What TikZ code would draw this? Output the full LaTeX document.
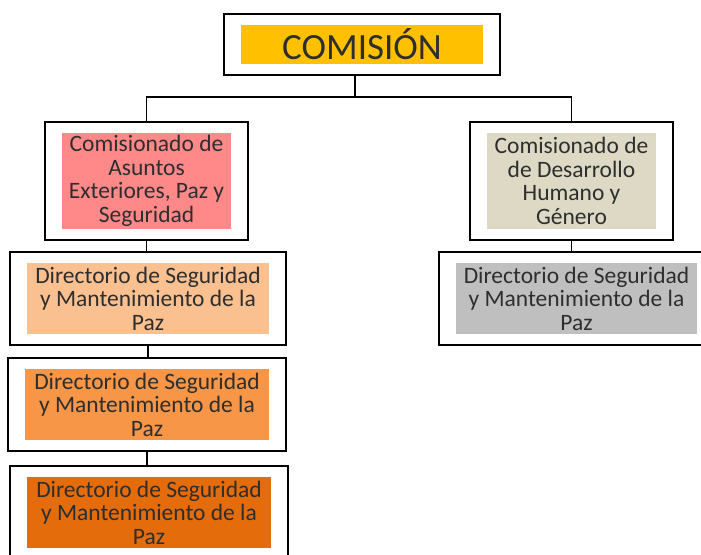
\documentclass[tikz,border=0pt]{standalone}
\usepackage{fontspec}
\setmainfont{Carlito}
\usepackage{tikz}
\usetikzlibrary{fit}
\definecolor{txt}{HTML}{2E2E2E}
\definecolor{comYellow}{HTML}{FFC000}
\definecolor{comPink}{HTML}{FF8989}
\definecolor{comTan}{HTML}{DDD9C4}
\definecolor{dirLight}{HTML}{FAC090}
\definecolor{dirMid}{HTML}{F79646}
\definecolor{dirDark}{HTML}{E46C0A}
\definecolor{dirGray}{HTML}{BFBFBF}
\tikzset{
	inbox/.style={minimum width=#1, inner sep=0pt, align=center, text=txt, font=\fontsize{23.5}{23.5}\selectfont},
	frame/.style={draw=black, line width=1.7pt, inner xsep=16.5pt, inner ysep=10.5pt},
	link/.style={line width=1.3pt}
}
\begin{document}
\begin{tikzpicture}[x=1pt,y=-1pt]
			\useasboundingbox (0,0) rectangle (701,554);
			\node (com) [inbox=242pt, minimum height=39pt, fill=comYellow, font=\fontsize{37}{37}\selectfont] at (362,44.5){COMISIÓN};
			\node (comA) [inbox=169pt, minimum height=96pt, fill=comPink] at (146.5,181){Comisionado de\\Asuntos\\Exteriores, Paz y\\Seguridad};
			\node (comB) [inbox=169pt, minimum height=96pt, fill=comTan] at (571.5,181){Comisionado de\\de Desarrollo\\Humano y\\Género};
			\node (dirA) [inbox=242pt, minimum height=71pt, fill=dirLight] at (148,298.5){Directorio de Seguridad\\y Mantenimiento de la\\Paz};
			\node (dirB) [inbox=244pt, minimum height=71pt, fill=dirMid] at (147,404.5){Directorio de Seguridad\\y Mantenimiento de la\\Paz};
			\node (dirC) [inbox=244pt, minimum height=71pt, fill=dirDark] at (149,512.5){Directorio de Seguridad\\y Mantenimiento de la\\Paz};
			\node (dirD) [inbox=241pt, minimum height=71pt, fill=dirGray] at (576.5,298.5){Directorio de Seguridad\\y Mantenimiento de la\\Paz};
			\node (comF) [frame, fit=(com)] {};
			\node (comAF) [frame, fit=(comA)] {};
			\node (comBF) [frame, fit=(comB)] {};
			\node (dirAF) [frame, fit=(dirA)] {};
			\node (dirBF) [frame, fit=(dirB)] {};
			\node (dirCF) [frame, fit=(dirC)] {};
			\node (dirDF) [frame, fit=(dirD)] {};
			
			\coordinate (bar) at (355,97);
			\draw[link] (comF.south -| bar)--(bar)-|(comAF.north);
			\draw[link] (bar)-|(comBF.north);
			\draw[link] (comAF.south)--(comAF.south |- dirAF.north);
			\draw[link] (dirAF.south)--(dirAF.south |- dirBF.north);
			\draw[link] (dirBF.south)--(dirBF.south |- dirCF.north);
			\draw[link] (comBF.south)--(comBF.south |- dirDF.north);
		\end{tikzpicture}
\end{document}
